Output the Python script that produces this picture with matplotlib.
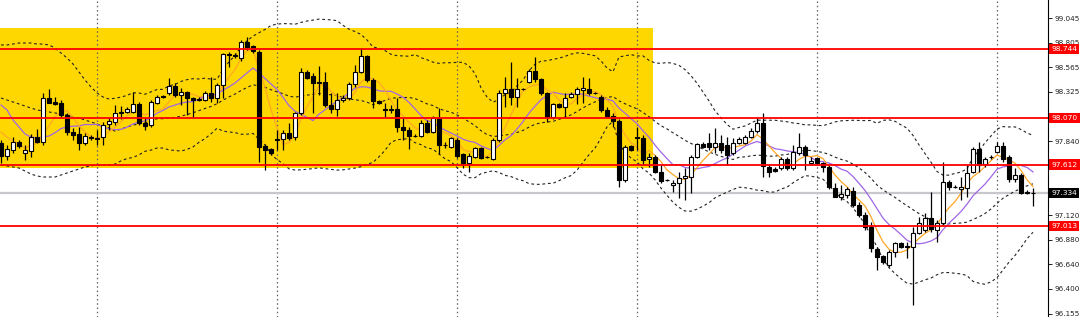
import numpy as np
import pandas as pd
import matplotlib
matplotlib.use('Agg')
import matplotlib.pyplot as plt
import matplotlib.transforms as mtransforms

# candles (price)
opens = [97.825, 97.698, 97.756, 97.835, 97.727, 97.747, 97.883, 97.835, 98.265, 98.226,
         98.216, 98.099, 97.932, 97.913, 97.825, 97.883, 97.874, 97.883, 98.011, 98.030,
         98.118, 98.128, 98.128, 98.206, 98.020, 98.001, 98.216, 98.285, 98.314, 98.382,
         98.294, 98.324, 98.265, 98.246, 98.246, 98.314, 98.265, 98.392, 98.696, 98.686,
         98.657, 98.813, 98.774, 98.715, 97.796, 97.766, 97.854, 97.864, 97.923, 97.883,
         98.118, 98.519, 98.480, 98.422, 98.422, 98.197, 98.157, 98.246, 98.265, 98.402,
         98.519, 98.676, 98.441, 98.236, 98.157, 98.148, 98.157, 97.981, 97.952, 97.893,
         97.893, 98.020, 97.932, 98.069, 97.805, 97.786, 97.854, 97.717, 97.629, 97.688,
         97.776, 97.688, 97.668, 97.854, 98.314, 98.353, 98.275, 98.353, 98.422, 98.529,
         98.451, 98.314, 98.079, 98.206, 98.177, 98.275, 98.304, 98.343, 98.353, 98.314,
         98.275, 98.148, 98.089, 98.040, 97.463, 97.796, 97.883, 97.874, 97.668, 97.688,
         97.541, 97.463, 97.414, 97.433, 97.482, 97.492, 97.688, 97.815, 97.825, 97.786,
         97.825, 97.805, 97.727, 97.825, 97.825, 97.883, 97.942, 98.020, 97.590, 97.570,
         97.580, 97.668, 97.580, 97.727, 97.786, 97.629, 97.678, 97.629, 97.590, 97.384,
         97.297, 97.316, 97.355, 97.218, 97.120, 97.003, 96.788, 96.719, 96.631, 96.758,
         96.846, 96.807, 96.807, 96.944, 96.973, 97.091, 96.973, 97.042, 97.443, 97.394,
         97.375, 97.384, 97.541, 97.766, 97.619, 97.688, 97.737, 97.796, 97.688, 97.473,
         97.512, 97.345, 97.336]
highs = [97.854, 97.805, 97.883, 97.854, 97.805, 97.913, 97.962, 98.314, 98.353, 98.275,
         98.246, 98.118, 97.971, 97.981, 97.923, 97.903, 97.952, 98.030, 98.069, 98.197,
         98.187, 98.177, 98.324, 98.226, 98.069, 98.246, 98.294, 98.294, 98.461, 98.412,
         98.363, 98.334, 98.275, 98.275, 98.334, 98.471, 98.412, 98.705, 98.715, 98.705,
         98.833, 98.862, 98.784, 98.735, 97.815, 97.776, 97.952, 97.952, 98.020, 98.128,
         98.559, 98.539, 98.510, 98.578, 98.519, 98.314, 98.314, 98.294, 98.422, 98.588,
         98.754, 98.686, 98.461, 98.246, 98.216, 98.197, 98.265, 98.079, 97.981, 97.913,
         98.050, 98.050, 98.089, 98.167, 97.835, 97.883, 97.874, 97.727, 97.727, 97.786,
         97.786, 97.698, 97.874, 98.343, 98.471, 98.617, 98.461, 98.363, 98.549, 98.666,
         98.461, 98.324, 98.216, 98.216, 98.314, 98.324, 98.373, 98.471, 98.461, 98.324,
         98.294, 98.177, 98.118, 98.060, 97.805, 97.805, 97.981, 97.903, 97.727, 97.707,
         97.610, 97.473, 97.463, 97.541, 97.580, 97.707, 97.825, 97.835, 97.923, 97.971,
         97.903, 97.883, 97.874, 97.883, 97.903, 97.971, 98.069, 98.118, 97.610, 97.590,
         97.688, 97.688, 97.805, 97.923, 97.805, 97.688, 97.688, 97.639, 97.610, 97.433,
         97.414, 97.394, 97.394, 97.247, 97.150, 97.052, 96.807, 96.729, 96.778, 96.856,
         96.856, 96.856, 97.003, 97.101, 97.140, 97.345, 97.071, 97.639, 97.463, 97.414,
         97.492, 97.610, 97.786, 97.835, 97.688, 97.707, 97.835, 97.835, 97.707, 97.580,
         97.531, 97.365, 97.384]
lows = [97.629, 97.658, 97.727, 97.776, 97.658, 97.688, 97.825, 97.805, 98.216, 98.197,
        98.079, 97.903, 97.854, 97.756, 97.805, 97.854, 97.805, 97.805, 97.952, 98.001,
        98.060, 98.118, 98.118, 98.001, 97.952, 97.981, 98.206, 98.265, 98.294, 98.275,
        98.197, 98.099, 98.079, 98.236, 98.236, 98.226, 98.216, 98.265, 98.568, 98.657,
        98.627, 98.735, 98.705, 97.639, 97.561, 97.707, 97.756, 97.756, 97.854, 97.854,
        98.099, 98.451, 98.118, 98.294, 98.177, 98.118, 98.089, 98.226, 98.246, 98.373,
        98.510, 98.422, 98.167, 98.206, 98.079, 98.118, 97.932, 97.854, 97.766, 97.883,
        97.883, 97.923, 97.923, 97.717, 97.776, 97.776, 97.678, 97.580, 97.541, 97.678,
        97.668, 97.678, 97.658, 97.835, 98.177, 98.197, 98.177, 98.343, 98.412, 98.422,
        98.294, 98.030, 98.060, 98.167, 98.079, 98.265, 98.206, 98.216, 98.294, 98.304,
        98.128, 98.079, 97.981, 97.394, 97.443, 97.747, 97.756, 97.610, 97.590, 97.531,
        97.433, 97.453, 97.345, 97.287, 97.267, 97.336, 97.678, 97.776, 97.756, 97.727,
        97.727, 97.610, 97.707, 97.815, 97.815, 97.874, 97.923, 97.492, 97.492, 97.541,
        97.561, 97.561, 97.561, 97.707, 97.561, 97.619, 97.610, 97.541, 97.375, 97.297,
        97.267, 97.287, 97.198, 97.101, 96.973, 96.758, 96.582, 96.641, 96.611, 96.709,
        96.797, 96.699, 96.240, 96.934, 96.954, 96.954, 96.856, 97.022, 97.365, 97.384,
        97.267, 97.297, 97.531, 97.541, 97.590, 97.668, 97.727, 97.639, 97.443, 97.443,
        97.326, 97.326, 97.208]
closes = [97.698, 97.766, 97.835, 97.796, 97.756, 97.883, 97.835, 98.265, 98.216, 98.206,
          98.099, 97.932, 97.903, 97.825, 97.893, 97.874, 97.864, 98.001, 98.040, 98.118,
          98.128, 98.157, 98.206, 98.020, 97.991, 98.226, 98.275, 98.275, 98.382, 98.294,
          98.324, 98.265, 98.246, 98.255, 98.314, 98.265, 98.392, 98.696, 98.686, 98.676,
          98.813, 98.764, 98.725, 97.786, 97.756, 97.727, 97.864, 97.923, 97.874, 98.118,
          98.519, 98.461, 98.412, 98.412, 98.197, 98.157, 98.246, 98.265, 98.402, 98.519,
          98.676, 98.441, 98.236, 98.216, 98.148, 98.157, 97.981, 97.952, 97.893, 97.893,
          98.020, 97.932, 98.069, 97.805, 97.805, 97.874, 97.698, 97.629, 97.698, 97.776,
          97.678, 97.688, 97.854, 98.314, 98.353, 98.275, 98.353, 98.353, 98.529, 98.451,
          98.314, 98.079, 98.206, 98.177, 98.265, 98.304, 98.353, 98.363, 98.314, 98.314,
          98.148, 98.089, 98.040, 97.463, 97.786, 97.756, 97.874, 97.658, 97.688, 97.541,
          97.453, 97.463, 97.433, 97.482, 97.502, 97.688, 97.815, 97.786, 97.786, 97.825,
          97.756, 97.707, 97.825, 97.864, 97.883, 97.942, 98.020, 97.600, 97.541, 97.551,
          97.668, 97.580, 97.737, 97.786, 97.707, 97.649, 97.629, 97.590, 97.394, 97.297,
          97.326, 97.375, 97.218, 97.120, 97.003, 96.797, 96.709, 96.660, 96.758, 96.846,
          96.807, 96.817, 96.944, 97.042, 97.091, 96.983, 97.042, 97.443, 97.394, 97.394,
          97.394, 97.531, 97.766, 97.610, 97.668, 97.688, 97.796, 97.668, 97.473, 97.512,
          97.336, 97.336, 97.334]

# indicator values at the left edge (no history on screen)
bb_upper_head = [98.784, 98.784, 98.793, 98.803, 98.803, 98.803, 98.793, 98.793, 98.784, 98.754,
                 98.705, 98.657, 98.598, 98.519, 98.441, 98.373, 98.314, 98.275, 98.255]
bb_mid_head = [98.265, 98.246, 98.226, 98.206, 98.187, 98.167, 98.148, 98.138, 98.128, 98.118,
               98.109, 98.099, 98.079, 98.069, 98.050, 98.030, 98.011, 97.991, 97.971]
bb_lower_head = [97.610, 97.600, 97.590, 97.580, 97.551, 97.521, 97.502, 97.492, 97.492, 97.492,
                 97.512, 97.531, 97.551, 97.570, 97.590, 97.600, 97.610, 97.610, 97.610]
ma10_head = [98.197, 98.148, 98.050, 97.981, 97.913, 97.883, 97.874, 97.883, 97.893]
ma5_head = [97.932, 97.883, 97.844, 97.815]

levels = [98.744, 98.070, 97.612, 97.013]
bid = 97.334
tick_vals = [99.045, 98.805, 98.565, 98.325, 98.085, 97.840, 97.600, 97.360,
             97.120, 96.880, 96.640, 96.400, 96.155]
hidden_ticks = [98.085, 97.600, 97.360]   # covered by the level boxes
week_starts = [16, 46, 76, 106, 136, 166]
zone_x = (-1, 108.7)
zone_y = (97.580, 98.950)

#----------

o = np.array(opens); h = np.array(highs); l = np.array(lows); c = np.array(closes)
n = len(c)
x = np.arange(n)

cs = pd.Series(c)
ma5 = cs.rolling(5).mean().to_numpy(); ma5[:4] = ma5_head
ma10 = cs.rolling(10).mean().to_numpy(); ma10[:9] = ma10_head
mid = cs.rolling(20).mean()
sd = cs.rolling(20).std(ddof=0)
up = (mid + 2*sd).to_numpy(); lo = (mid - 2*sd).to_numpy(); mid = mid.to_numpy()
up[:19] = bb_upper_head; mid[:19] = bb_mid_head; lo[:19] = bb_lower_head

fig = plt.figure(figsize=(10.8, 3.17), dpi=100)
ax = fig.add_axes([0, 0, 1048/1080, 1])
ax.set_xlim(-1/6, 1047/6)
ax.set_ylim(96.122, 99.224)

ax.fill_between(zone_x, zone_y[0], zone_y[1], color='#FFD700', lw=0, zorder=0)

for w in week_starts:
    ax.axvline(w, color='#606060', lw=0.9, ls=(0, (1.2, 2.2)), zorder=1)

ax.axhline(bid, color='#C8C8CC', lw=1.6, zorder=1)

dash = (0, (2.5, 2.5))
ax.plot(x, up, color='#222222', lw=0.8, ls=dash, zorder=2)
ax.plot(x, mid, color='#222222', lw=0.8, ls=dash, zorder=2)
ax.plot(x, lo, color='#222222', lw=0.8, ls=dash, zorder=2)
ax.plot(x, ma10, color='#A066E8', lw=0.9, zorder=2)
ax.plot(x, ma5, color='#FFA726', lw=0.9, zorder=2)

ax.vlines(x, l, h, color='black', lw=0.9, zorder=3)
bull = c >= o
body_lo = np.minimum(o, c)
body_h = np.maximum(np.abs(c - o), 0.004)
ax.bar(x[bull], body_h[bull], bottom=body_lo[bull], width=0.62,
       color='white', edgecolor='black', lw=0.8, zorder=4)
ax.bar(x[~bull], body_h[~bull], bottom=body_lo[~bull], width=0.62,
       color='black', edgecolor='black', lw=0.8, zorder=4)

for lv in levels:
    ax.axhline(lv, color='#FF0000', lw=1.3, zorder=5)

for s in ['top', 'left', 'bottom']:
    ax.spines[s].set_visible(False)
ax.spines['right'].set_linewidth(0.8)
ax.set_xticks([])
ax.yaxis.tick_right()
ax.set_yticks(tick_vals)
ax.set_yticklabels(['' if v in hidden_ticks else f'{v:.3f}' for v in tick_vals])
ax.tick_params(axis='y', length=3, width=0.7, pad=2, labelsize=5.2, colors='#222222')

tr = mtransforms.blended_transform_factory(ax.transAxes, ax.transData)
for lv in levels:
    ax.text(1.003, lv, f'{lv:.3f}', transform=tr, ha='left', va='center', fontsize=5.4,
            color='white', zorder=10, clip_on=False,
            bbox=dict(boxstyle='square,pad=0.3', fc='#FF0000', ec='none'))
ax.text(1.003, bid, f'{bid:.3f}', transform=tr, ha='left', va='center', fontsize=5.4,
        color='white', zorder=10, clip_on=False,
        bbox=dict(boxstyle='square,pad=0.3', fc='black', ec='none'))

plt.savefig('out.png', dpi=100)
